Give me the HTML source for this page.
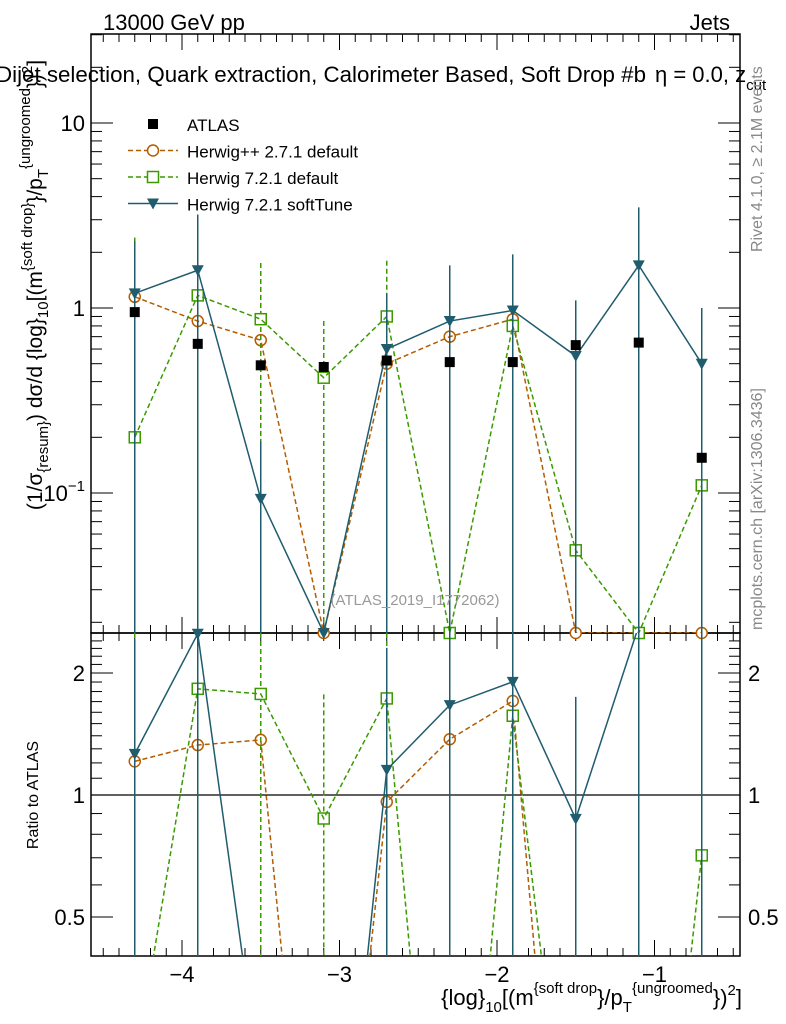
<!DOCTYPE html>
<html><head><meta charset="utf-8"><style>
html,body{margin:0;padding:0;background:#fff;overflow:hidden;width:786px;height:1024px;}
svg{display:block;font-family:"Liberation Sans",sans-serif;}
</style></head><body>
<svg id="chartsvg" width="786" height="1024" viewBox="0 0 786 1024" xmlns="http://www.w3.org/2000/svg">
<text x="103" y="30" font-size="22">13000 GeV pp</text>
<text x="730" y="30" font-size="22" text-anchor="end">Jets</text>
<text x="-4" y="82" font-size="22" textLength="650" lengthAdjust="spacingAndGlyphs">Dijet selection, Quark extraction, Calorimeter Based, Soft Drop #b</text>
<text x="655" y="82" font-size="22">η = 0.0, z<tspan font-size="15" dy="8">cut</tspan></text>
<g id="plotgroup"></g>
<text transform="translate(42,285) rotate(-90)" font-size="21" text-anchor="middle">(1/σ<tspan font-size="15" dy="6">{resum}</tspan><tspan dy="-6">) dσ/d {log}</tspan><tspan font-size="15" dy="6">10</tspan><tspan dy="-6">[(m</tspan><tspan font-size="15" dy="-10">{soft drop}</tspan><tspan dy="10">}/p</tspan><tspan font-size="15" dy="6">T</tspan><tspan font-size="15" dy="-18">{ungroomed</tspan><tspan dy="12">})</tspan><tspan font-size="15" dy="-10">2</tspan><tspan dy="10">]</tspan></text>
<text transform="translate(38,795) rotate(-90)" font-size="16" text-anchor="middle">Ratio to ATLAS</text>
<text transform="translate(762,252) rotate(-90)" font-size="16" fill="#888">Rivet 4.1.0, ≥ 2.1M events</text>
<text transform="translate(762,630) rotate(-90)" font-size="16" fill="#888">mcplots.cern.ch [arXiv:1306.3436]</text>
<text x="415" y="605" font-size="15" fill="#999" text-anchor="middle">(ATLAS_2019_I1772062)</text>
<text x="742" y="1005" font-size="22" text-anchor="end">{log}<tspan font-size="15" dy="7">10</tspan><tspan dy="-7">[(m</tspan><tspan font-size="15" dy="-12">{soft drop</tspan><tspan dy="12">}/p</tspan><tspan font-size="15" dy="7">T</tspan><tspan font-size="15" dy="-19">{ungroomed</tspan><tspan dy="12">})</tspan><tspan font-size="15" dy="-10">2</tspan><tspan dy="10">]</tspan></text>
</svg>
<script>
var binCenters=[-4.3,-3.9,-3.5,-3.1,-2.7,-2.3,-1.9,-1.5,-1.1,-0.7];
var atlasVals=[0.95,0.64,0.49,0.48,0.52,0.51,0.51,0.63,0.65,0.155];
var hppVals=[1.15,0.85,0.67,0.0175,0.5,0.7,0.87,0.0175,0.0175,0.0175];
var hppHi=[2.3,2.3,1.3,0.02,0.9,1.25,1.7,0.02,0.02,0.02];
var h7Vals=[0.2,1.17,0.87,0.42,0.9,0.0175,0.8,0.049,0.0175,0.11];
var h7Hi=[2.4,2.3,1.75,0.85,1.8,0.02,1.7,0.1,0.02,0.22];
var softVals=[1.2,1.6,0.093,0.0175,0.6,0.85,0.97,0.55,1.7,0.5];
var softHi=[2.3,3.2,0.19,0.02,1.2,1.7,1.95,1.1,3.5,1.0];
var xTickVals=[-4,-3,-2,-1];
var mainTickVals=[10,1,0.1];
var ratioTickVals=[2,1,0.5];

(function(){
var NS="http://www.w3.org/2000/svg";
var G=document.getElementById('plotgroup');
var L=91,R=740,T=34,MB=633,RB=956;
function X(v){return 182+(v+4)*157.5;}
function Y(v){return 308-185*Math.log10(v);}
function YR(v){return 795-122*Math.log2(v);}
function clampM(y){return Math.max(T,Math.min(MB,y));}
function clampR(y){return Math.max(MB,Math.min(RB,y));}
function mk(tag,attrs,parent){var e=document.createElementNS(NS,tag);for(var k in attrs)e.setAttribute(k,attrs[k]);(parent||G).appendChild(e);return e;}
function drawMarker(m,x,y,color,nm){
  var e;
  if(m=='circle')e=mk('circle',{cx:x,cy:y,r:5.5,fill:'#fff',stroke:color,'stroke-width':1.5});
  else if(m=='square')e=mk('rect',{x:x-5.5,y:y-5.5,width:11,height:11,fill:'#fff',stroke:color,'stroke-width':1.5});
  else if(m=='tri')e=mk('polygon',{points:(x-6)+','+(y-5)+' '+(x+6)+','+(y-5)+' '+x+','+(y+6),fill:color});
  else e=mk('rect',{x:x-5,y:y-5,width:10,height:10,fill:'#000'});
  
  
}
var defs=mk('defs',{});
var c1=mk('clipPath',{id:'clipMain'},defs);mk('rect',{x:L,y:T,width:R-L,height:MB-T},c1);
var c2=mk('clipPath',{id:'clipRatio'},defs);mk('rect',{x:L,y:MB,width:R-L,height:RB-MB},c2);

var f1=mk('rect',{x:L,y:T,width:R-L,height:MB-T,fill:'none',stroke:'#000','stroke-width':1.5});


var f2=mk('rect',{x:L,y:MB,width:R-L,height:RB-MB,fill:'none',stroke:'#000','stroke-width':1.5});


var one=mk('line',{x1:L,x2:R,y1:YR(1),y2:YR(1),stroke:'#000','stroke-width':1.2});



for(var i=-45;i<=-5;i++){
  var vv=i/10;var x=X(vv);if(x<L||x>R)continue;
  var len=(i%10===0)?16:8;
  var sides=[[T,1],[MB,-1],[MB,1],[RB,-1]];
  for(var s=0;s<sides.length;s++)mk('line',{x1:x,x2:x,y1:sides[s][0],y2:sides[s][0]+sides[s][1]*len,stroke:'#000','stroke-width':1});
}
xTickVals.forEach(function(v){var t=mk('text',{x:X(v),y:982,'font-size':22,'text-anchor':'middle'});t.textContent='\u2212'+Math.abs(v);

});
for(var d=-2;d<=1;d++)for(var m=1;m<10;m++){var v=m*Math.pow(10,d);var y=Y(v);if(y<T||y>MB)continue;var ln=m==1?22:11;
 mk('line',{x1:L,x2:L+ln,y1:y,y2:y,stroke:'#000'});mk('line',{x1:R,x2:R-ln,y1:y,y2:y,stroke:'#000'});}
mainTickVals.forEach(function(v){var t=mk('text',{x:85,y:Y(v)+8,'font-size':22,'text-anchor':'end'});
 if(v==0.1){t.textContent='10';var sp=mk('tspan',{'font-size':15,dy:-10},t);sp.textContent='\u22121';}else t.textContent=String(v);
 
 });
for(var k=5;k<=24;k++){var rv=k/10;var ry=YR(rv);if(ry<MB||ry>RB)continue;var rl=(k==5||k==10||k==20)?22:11;
 mk('line',{x1:L,x2:L+rl,y1:ry,y2:ry,stroke:'#000'});mk('line',{x1:R,x2:R-rl,y1:ry,y2:ry,stroke:'#000'});}
ratioTickVals.forEach(function(v){[[85,'end'],[748,'start']].forEach(function(p){var t=mk('text',{x:p[0],y:YR(v)+8,'font-size':22,'text-anchor':p[1]});t.textContent=String(v);
 
 });});

function series(vals,hi,color,dash,marker,nm){
  var pm=[],pr=[];
  vals.forEach(function(v,i){
    var x=X(binCenters[i]);var ym=clampM(Y(v));var r=v/atlasVals[i];var yr=YR(r);
    pm.push(x+','+ym);pr.push(x+','+yr);
    var e1=mk('line',{x1:x,x2:x,y1:clampM(Y(hi[i])),y2:MB,stroke:color,'stroke-width':1.5,'stroke-dasharray':dash||'none'});
    
    
    var e2=mk('line',{x1:x,x2:x,y1:clampR(YR(hi[i]/atlasVals[i])),y2:RB,stroke:color,'stroke-width':1.5,'stroke-dasharray':dash||'none'});
    
    
    drawMarker(marker,x,ym,color,nm+'-point');
    if(yr>=MB-1&&yr<=RB+1)drawMarker(marker,x,yr,color,nm+'-ratio-point');
  });
  var l1=mk('polyline',{points:pm.join(' '),fill:'none',stroke:color,'stroke-width':1.5,'stroke-dasharray':dash||'none','clip-path':'url(#clipMain)'});
  
  
  var l2=mk('polyline',{points:pr.join(' '),fill:'none',stroke:color,'stroke-width':1.5,'stroke-dasharray':dash||'none','clip-path':'url(#clipRatio)'});
  
  
}
series(hppVals,hppHi,'#b35c00','5,3','circle','herwigpp');
series(h7Vals,h7Hi,'#3a9a00','5,3','square','herwig7-default');
series(softVals,softHi,'#1f5c6e','','tri','herwig7-softtune');
atlasVals.forEach(function(v,i){drawMarker('sq',X(binCenters[i]),Y(v),'#000','atlas-point');});

var leg=[['ATLAS','#000','','sq'],['Herwig++ 2.7.1 default','#b35c00','5,3','circle'],['Herwig 7.2.1 default','#3a9a00','5,3','square'],['Herwig 7.2.1 softTune','#1f5c6e','','tri']];
leg.forEach(function(e,i){var y=124+i*26.5;
  if(e[3]!='sq'){var lnn=mk('line',{x1:128,x2:178,y1:y,y2:y,stroke:e[1],'stroke-width':1.5,'stroke-dasharray':e[2]||'none'});
   
   }
  drawMarker(e[3],153,y,e[1],'legend-marker');
  var t=mk('text',{x:187,y:y+7,'font-size':17});t.textContent=e[0];
  
  
});
})();
</script>
</body></html>
